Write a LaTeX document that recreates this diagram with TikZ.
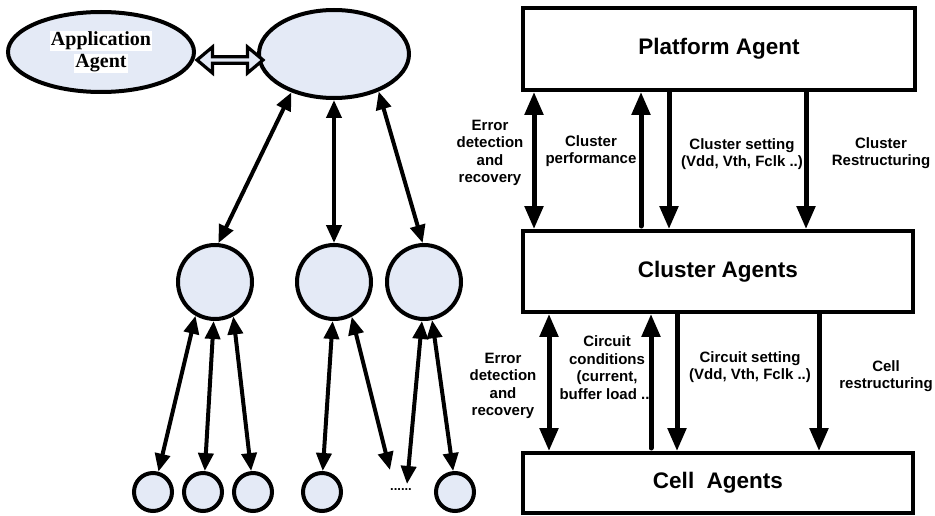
\documentclass[tikz,border=0pt]{standalone}
\usepackage{fontspec}
\setmainfont{Liberation Sans}
\newfontfamily\serifbold{Liberation Serif}
\usetikzlibrary{shapes.geometric,shapes.arrows,arrows.meta}
\definecolor{agentfill}{RGB}{228,234,246}
\begin{document}
\begin{tikzpicture}[x=1pt,y=-1pt,
  agent/.style={draw, line width=4pt, fill=agentfill, inner sep=0pt},
  bigell/.style={agent, ellipse},
  circ/.style={agent, circle},
  link/.style={line width=4pt, {Triangle[length=18pt,width=15pt]}-{Triangle[length=18pt,width=15pt]}},
  box/.style={draw, line width=3.8pt, rectangle, inner sep=0pt, font=\bfseries\fontsize{22.5}{27}\selectfont},
  flowboth/.style={line width=5pt, {Triangle[length=23pt,width=18pt]}-{Triangle[length=23pt,width=18pt]}},
  flowend/.style={line width=5pt, -{Triangle[length=23pt,width=18pt]}},
  flowstart/.style={line width=5pt, line cap=round, {Triangle[length=23pt,width=18pt]}-},
  lbl/.style={align=center, font=\bfseries\fontsize{15}{17.5}\selectfont},
]
\useasboundingbox (0,0) rectangle (935,516);

% ---------- left: agent hierarchy ----------
\node[bigell, align=center, minimum width=186pt, minimum height=80pt,
      font=\serifbold\bfseries\fontsize{20}{22}\selectfont] (app) at (101,52)
  {\setlength\fboxsep{1pt}\colorbox{white}{Application}\\\setlength\fboxsep{1pt}\colorbox{white}{Agent}};
\node[bigell, minimum width=150pt, minimum height=88pt] (top) at (334,54) {};
\node[double arrow, draw, fill=agentfill, line width=3.2pt, inner sep=0pt,
      minimum width=26pt, minimum height=66pt, double arrow head extend=5pt,
      double arrow tip angle=80] (hollow) at (230,60) {};

\node[circ, minimum size=74pt] (c1) at (215,282) {};
\node[circ, minimum size=74pt] (c2) at (334,282) {};
\node[circ, minimum size=74pt] (c3) at (424,282) {};

\node[circ, minimum size=38pt] (l1) at (153,492) {};
\node[circ, minimum size=38pt] (l2) at (203,492) {};
\node[circ, minimum size=38pt] (l3) at (253,492) {};
\node[circ, minimum size=38pt] (l4) at (322,492) {};
\node[circ, minimum size=38pt] (l5) at (455,492) {};
\node[font=\bfseries\fontsize{13}{13}\selectfont, inner sep=0pt] (dots) at (401,490) {......};
\coordinate (dA) at (390,470);
\coordinate (dB) at (407,484);

\draw[link] (top.222) -- (c1.85);
\draw[link] (top.south) -- (c2.north);
\draw[link] (top.320) -- (c3.92);

\draw[link] (c1.240) -- (l1.75);
\draw[link] (c1.268) -- (l2.85);
\draw[link] (c1.298) -- (l3.95);
\draw[link] (c2.268) -- (l4.88);
\draw[link] (c2.297) -- (dA);
\draw[link] (c3.267) -- (dB);
\draw[link] (c3.282) -- (l5.95);

% ---------- right: agent layers ----------
\node[box, minimum width=392pt, minimum height=82pt] (pbox) at (719,49) {Platform Agent};
\node[box, minimum width=390pt, minimum height=81pt] (cbox) at (718,271.5) {Cluster Agents};
\node[box, minimum width=390pt, minimum height=60pt] (ebox) at (718,483) {Cell\ \ Agents};

\draw[flowboth] (534,0 |- pbox.south) -- (534,0 |- cbox.north);
\draw[flowstart] (641,0 |- pbox.south) -- (641,226);
\draw[flowend] (669,0 |- pbox.south) -- (669,0 |- cbox.north);
\draw[flowend] (806,0 |- pbox.south) -- (806,0 |- cbox.north);

\draw[flowboth] (549,0 |- cbox.south) -- (549,0 |- ebox.north);
\draw[flowstart] (651,0 |- cbox.south) -- (651,448);
\draw[flowend] (677,0 |- cbox.south) -- (677,0 |- ebox.north);
\draw[flowend] (819,0 |- cbox.south) -- (819,0 |- ebox.north);

\node[lbl] (u1) at (490,153) {Error\\detection\\and\\recovery};
\node[lbl] (u2) at (591,151) {Cluster\\performance};
\node[lbl] (u3) at (742,154) {Cluster setting\\(Vdd, Vth, Fclk ..)};
\node[lbl] (u4) at (881,153) {Cluster\\Restructuring};

\node[lbl] (d1) at (503,386) {Error\\detection\\and\\recovery};
\node[lbl] (d2) at (607,369) {Circuit\\conditions\\(current,\\buffer load ..)};
\node[lbl] (d3) at (750,367) {Circuit setting\\(Vdd, Vth, Fclk ..)};
\node[lbl] (d4) at (886,376) {Cell\\restructuring};
\end{tikzpicture}
\end{document}
